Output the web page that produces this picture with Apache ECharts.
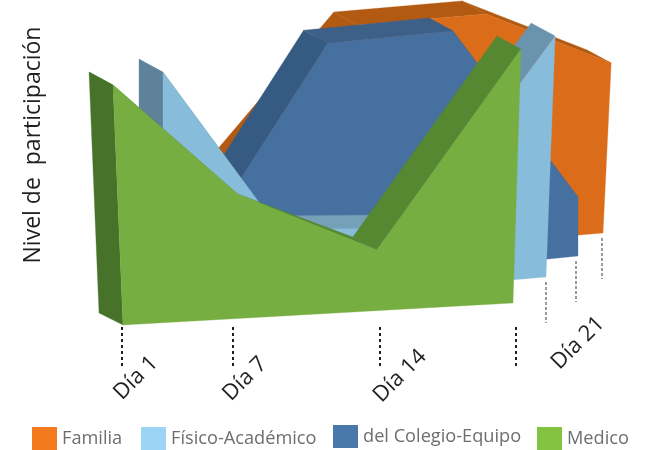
<!DOCTYPE html>
<html><head><meta charset="utf-8">
<style>html,body{margin:0;padding:0;background:#fff}#c{width:647px;height:450px}</style>
<script src="https://cdn.jsdelivr.net/npm/echarts@6/dist/echarts.min.js"></script>
</head><body><div id="c"></div>
<script>
var days = [1, 7, 14, 21];
var dayLabels = ['Día 1', 'Día 7', 'Día 14', 'Día 21'];
var familia = [35, 85.3, 85.3, 63];
var fisicoAcademico = [82, 24.5, 20.9, 83.1];
var colegioEquipo = [29.6, 85, 84.9, 21];
var medico = [80, 41.5, 20.2, 84.7];

// Oblique projection of each series' wall: corners at value 0 and value 100 (style/layout only)
var walls = {
  'Familia': {bl:[225,265],br:[603,233],tl:[252,-5],tr:[616,-37],front:'#da6c1a',side:'#b35a12',seg:['#b35a12','#b35a12','#b35a12']},
  'Físico-Académico': {bl:[163,310],br:[546,277],tl:[163,20],tr:[557,-13],front:'#88bcdb',side:'#5f829b',seg:['#5f829b','#76a0b8','#6a94ad']},
  'del Colegio-Equipo': {bl:[222,292],br:[578,256],tl:[220,12],tr:[578,-24],front:'#45709f',side:'#365b83',seg:['#365b83','#3d6088','#3d6088']},
  'Medico': {bl:[123,325],br:[513,303],tl:[110.5,25],tr:[522.4,3],front:'#76ae41',side:'#47722a',seg:['#558831','#558831','#558831'],taperStart:1}
};
var depth = [-24, -13];
var legendSpots = {'Familia':[32,427,'#f47a20'],'Físico-Académico':[141,427,'#9bd4f5'],'del Colegio-Equipo':[333,425,'#4a78aa'],'Medico':[537,427,'#83c341']};

function project(w, pt, r) {
  var u = (pt[0]-r.x)/r.width, v = (r.y+r.height-pt[1])/r.height;
  var bx = w.bl[0]+(w.br[0]-w.bl[0])*u, by = w.bl[1]+(w.br[1]-w.bl[1])*u;
  var tx = w.tl[0]+(w.tr[0]-w.tl[0])*u, ty = w.tl[1]+(w.tr[1]-w.tl[1])*u;
  return [bx+(tx-bx)*v, by+(ty-by)*v];
}
function back(p){ return [p[0]+depth[0], p[1]+depth[1]]; }

function wallSeries(name, values) {
  var w = walls[name];
  return {
    type:'custom', name:name, coordinateSystem:'cartesian2d', clip:false,
    itemStyle:{color:legendSpots[name][2]},
    data: days.map(function(d,i){return [d, values[i]];}),
    encode:{x:0,y:1},
    renderItem:function(params, api){
      if (params.dataIndex !== 0) return null;
      var r = params.coordSys;
      var tops = days.map(function(d,i){return project(w, api.coord([d, values[i]]), r);});
      var base = days.map(function(d){return project(w, api.coord([d, 0]), r);});
      var kids = [];
      var poly = function(pts, fill){
        kids.push({type:'polygon', shape:{points:pts}, style:{fill:fill, stroke:fill, lineWidth:0.3}});
      };
      for (var i=0;i<3;i++) {
        var startBack = (w.taperStart === i) ? tops[i] : back(tops[i]);
        poly([tops[i],tops[i+1],back(tops[i+1]),startBack], w.seg[i]);
      }
      poly([back(tops[0]),tops[0],base[0],[base[0][0]+depth[0],base[0][1]-12]], w.side);
      poly([base[0]].concat(tops,[base[3]]), w.front);
      return {type:'group', children:kids};
    }
  };
}

// Axis furniture
var tickNudge = [-1,-7,3.5,3];
var labelSpots = [[136,378],[245,379],[400,376],[578,343]];
var backTicks = [['Físico-Académico',0],['del Colegio-Equipo',-2],['Familia',-1]];
var tickSeries = {
  type:'custom', name:'ejes', coordinateSystem:'cartesian2d', clip:false, silent:true, z:5,
  data: days.map(function(d){return [d,0];}),
  renderItem:function(params, api){
    var r = params.coordSys, i = params.dataIndex, kids=[];
    var p = project(walls['Medico'], api.coord([days[i],0]), r);
    kids.push({type:'line', shape:{x1:p[0]+tickNudge[i],y1:327,x2:p[0]+tickNudge[i],y2:368},
      style:{stroke:'#231f20',lineWidth:2,lineDash:[3,3]}});
    if (i===3) backTicks.forEach(function(t){
      var q = project(walls[t[0]], api.coord([21,0]), r);
      kids.push({type:'line', shape:{x1:q[0]+t[1],y1:q[1]+5,x2:q[0]+t[1],y2:q[1]+46},
        style:{stroke:'#9a9a9c',lineWidth:2,lineDash:[3,2]}});
    });
    kids.push({type:'text', x:labelSpots[i][0], y:labelSpots[i][1], rotation:Math.PI/4,
      style:{text:dayLabels[i], x:0, y:0, align:'center', verticalAlign:'middle',
      font:'22px "Open Sans"', fill:'#231f20'}});
    return {type:'group', children:kids};
  }
};

var chart = echarts.init(document.getElementById('c'), null, {renderer:'canvas'});
chart.setOption({
  animation:false,
  backgroundColor:'#fff',
  grid:{left:100,top:20,width:400,height:250},
  xAxis:{type:'value',min:1,max:21,show:false},
  yAxis:{type:'value',min:0,max:100,name:'Nivel de  participación',nameLocation:'middle',nameRotate:90,nameGap:55,
    nameTextStyle:{fontFamily:'Open Sans',fontSize:23,color:'#231f20'},
    axisLine:{show:false},axisTick:{show:false},axisLabel:{show:false},splitLine:{show:false}},
  legend:Object.keys(legendSpots).map(function(n){
    return {data:[{name:n,icon:'rect'}],left:legendSpots[n][0],top:legendSpots[n][1],padding:0,itemWidth:25,itemHeight:23,itemGap:0,itemTextGap:9,
      selectedMode:false,textStyle:{fontFamily:'Open Sans',fontSize:18.2,color:'#6d6e71'}};
  }),
  series:[
    wallSeries('Familia',familia),
    wallSeries('del Colegio-Equipo',colegioEquipo),
    wallSeries('Físico-Académico',fisicoAcademico),
    wallSeries('Medico',medico),
    tickSeries
  ]
});
</script></body></html>
